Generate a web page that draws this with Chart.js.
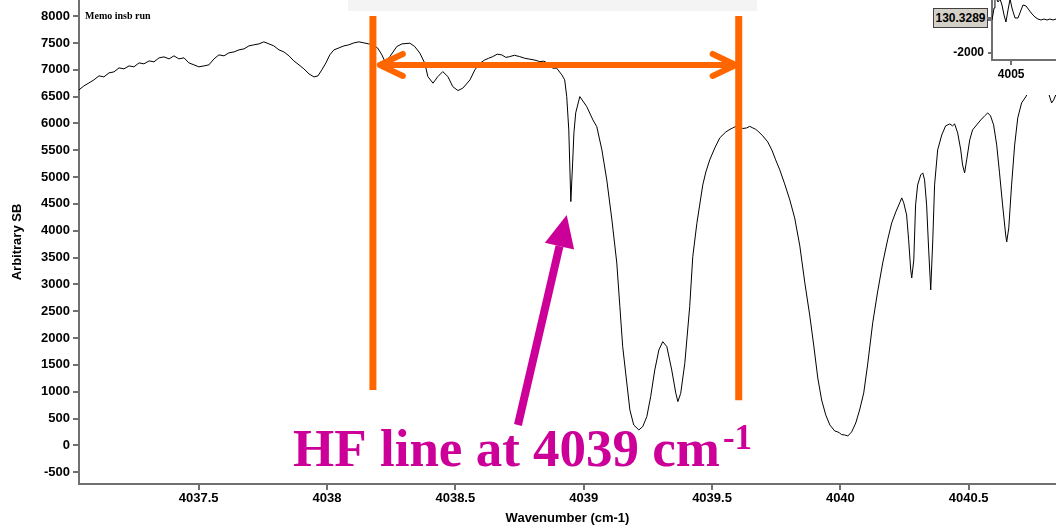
<!DOCTYPE html>
<html>
<head>
<meta charset="utf-8">
<script src="https://cdn.jsdelivr.net/npm/chart.js@4"></script>
<style>
  html, body { margin: 0; padding: 0; background: #fff; }
  #wrap { position: relative; width: 1056px; height: 526px; overflow: hidden; }
  #main { position: absolute; left: 0; top: 0; }
  #topbar { position: absolute; left: 348px; top: 0; width: 409px; height: 11px; background: #f4f4f4; }
  #memo { position: absolute; left: 85px; top: 10px; font: bold 10px "Liberation Serif", serif; color: #000; }
  #inset { position: absolute; left: 925px; top: 0; background: #fff; }
  #readout { position: absolute; left: 933px; top: 8px; width: 53px; height: 18px; background: #d4d0c8;
             border: 1px solid #404040; font: bold 12px "Liberation Sans", Arial, sans-serif; line-height: 18px; text-align: center; }
  #readtick { position: absolute; left: 987px; top: 17px; width: 5px; height: 2px; background: #707070; }
</style>
</head>
<body>
<div id="wrap">
  <canvas id="main" width="1056" height="526"></canvas>
  <div id="topbar"></div>
  <div id="memo">Memo insb run</div>
  <canvas id="inset" width="131" height="95"></canvas>
  <div id="readout">130.3289</div>
  <div id="readtick"></div>
</div>
<script>
// spectrum
const wavenumber = [
  4037.034, 4037.053, 4037.073, 4037.092, 4037.112, 4037.131, 4037.151, 4037.170, 4037.190, 4037.209,
  4037.229, 4037.248, 4037.268, 4037.287, 4037.307, 4037.326, 4037.346, 4037.365, 4037.385, 4037.404,
  4037.423, 4037.443, 4037.462, 4037.482, 4037.501, 4037.521, 4037.540, 4037.560, 4037.579, 4037.599,
  4037.618, 4037.638, 4037.657, 4037.677, 4037.696, 4037.715, 4037.735, 4037.754, 4037.774, 4037.793,
  4037.813, 4037.832, 4037.852, 4037.871, 4037.891, 4037.910, 4037.930, 4037.949, 4037.965, 4037.980,
  4037.996, 4038.011, 4038.027, 4038.047, 4038.066, 4038.085, 4038.105, 4038.124, 4038.144, 4038.163,
  4038.179, 4038.198, 4038.214, 4038.226, 4038.245, 4038.272, 4038.292, 4038.323, 4038.342, 4038.362,
  4038.381, 4038.393, 4038.413, 4038.432, 4038.451, 4038.471, 4038.490, 4038.510, 4038.529, 4038.557,
  4038.576, 4038.596, 4038.615, 4038.630, 4038.646, 4038.663, 4038.681, 4038.697, 4038.712, 4038.730,
  4038.751, 4038.770, 4038.790, 4038.810, 4038.829, 4038.845, 4038.860, 4038.880, 4038.895, 4038.915,
  4038.926, 4038.934, 4038.942, 4038.950, 4038.957, 4038.962, 4038.969, 4038.985, 4039.012, 4039.036,
  4039.051, 4039.071, 4039.090, 4039.110, 4039.129, 4039.141, 4039.152, 4039.168, 4039.180, 4039.195,
  4039.215, 4039.230, 4039.246, 4039.261, 4039.277, 4039.293, 4039.308, 4039.324, 4039.343, 4039.359,
  4039.367, 4039.378, 4039.394, 4039.413, 4039.425, 4039.441, 4039.452, 4039.464, 4039.476, 4039.491,
  4039.511, 4039.530, 4039.554, 4039.570, 4039.581, 4039.595, 4039.608, 4039.620, 4039.635, 4039.647,
  4039.659, 4039.670, 4039.678, 4039.698, 4039.717, 4039.733, 4039.748, 4039.764, 4039.783, 4039.803,
  4039.822, 4039.842, 4039.861, 4039.881, 4039.896, 4039.912, 4039.927, 4039.943, 4039.959, 4039.978,
  4039.990, 4039.997, 4040.005, 4040.017, 4040.029, 4040.037, 4040.044, 4040.060, 4040.075, 4040.091,
  4040.106, 4040.126, 4040.145, 4040.165, 4040.184, 4040.200, 4040.216, 4040.231, 4040.239, 4040.247,
  4040.258, 4040.266, 4040.274, 4040.278, 4040.286, 4040.293, 4040.301, 4040.313, 4040.321, 4040.328,
  4040.336, 4040.344, 4040.352, 4040.360, 4040.367, 4040.379, 4040.395, 4040.410, 4040.426, 4040.437,
  4040.445, 4040.457, 4040.469, 4040.476, 4040.484, 4040.492, 4040.504, 4040.515, 4040.531, 4040.547,
  4040.562, 4040.574, 4040.585, 4040.597, 4040.609, 4040.620, 4040.632, 4040.644, 4040.648, 4040.656,
  4040.667, 4040.679, 4040.691, 4040.706, 4040.722, 4040.737, 4040.761, 4040.784, 4040.807, 4040.823,
  4040.831, 4040.839
];
const signal = [
  6625, 6699, 6755, 6811, 6886, 6867, 6942, 6960, 7035, 7017,
  7072, 7054, 7128, 7110, 7165, 7147, 7222, 7240, 7203, 7259,
  7203, 7222, 7128, 7091, 7054, 7072, 7091, 7203, 7277, 7259,
  7315, 7333, 7370, 7389, 7445, 7464, 7482, 7520, 7482, 7445,
  7370, 7333, 7259, 7165, 7091, 7017, 6923, 6867, 6886, 6998,
  7128, 7277, 7370, 7408, 7445, 7464, 7501, 7520, 7501, 7482,
  7464, 7402, 7277, 7152, 7245, 7432, 7482, 7495, 7432, 7309,
  7122, 6873, 6750, 6873, 6966, 6873, 6686, 6612, 6656, 6811,
  6997, 7122, 7184, 7215, 7245, 7290, 7277, 7230, 7245, 7270,
  7245, 7215, 7197, 7180, 7152, 7160, 7122, 7029, 7029, 6904,
  6811, 6500, 5879, 4543, 5264, 5823, 6196, 6500, 6313, 6065,
  5941, 5506, 4947, 4201, 3400, 2585, 1840, 1163, 660, 380,
  287, 349, 535, 908, 1405, 1778, 1933, 1840, 1405, 971,
  815, 971, 1530, 2585, 3517, 4140, 4481, 4854, 5096, 5320,
  5544, 5730, 5842, 5890, 5916, 5950, 5935, 5905, 5916, 5945,
  5916, 5890, 5860, 5767, 5655, 5506, 5320, 5134, 4873, 4574,
  4239, 3717, 3046, 2412, 1871, 1256, 846, 567, 380, 268,
  250, 231, 200, 194, 175, 215, 250, 418, 660, 977,
  1499, 2282, 2859, 3400, 3829, 4146, 4351, 4518, 4612, 4518,
  4295, 3829, 3269, 3120, 3456, 4481, 4854, 5040, 5078, 4947,
  4481, 3642, 2897, 3829, 4854, 5506, 5786, 5954, 5991, 5954,
  5991, 5823, 5506, 5227, 5078, 5320, 5693, 5879, 5972, 6065,
  6140, 6196, 6140, 5972, 5599, 5078, 4481, 3922, 3791, 4052,
  4854, 5599, 6103, 6382, 6494, 6625, 6811, 6848, 6625, 6382,
  6438, 6531
];
const xTicks = [4037.5, 4038, 4038.5, 4039, 4039.5, 4040, 4040.5];
const yTicks = [-500, 0, 500, 1000, 1500, 2000, 2500, 3000, 3500, 4000, 4500, 5000, 5500, 6000, 6500, 7000, 7500, 8000];

// small cursor window in the top right corner
const insetWavenumber = [4004.850, 4004.866, 4004.873, 4004.882, 4004.897, 4004.913, 4004.928, 4004.944, 4004.959, 4004.975,
  4004.991, 4005.006, 4005.030, 4005.053, 4005.077, 4005.092, 4005.116, 4005.139, 4005.163, 4005.186,
  4005.209, 4005.233, 4005.256, 4005.280, 4005.303, 4005.327, 4005.350];
const insetSignal = [10, 742, 1400, 1350, 1108, 1290, 925, 315, -112, 620,
  1290, 742, 132, 132, 620, 925, 864, 620, 376, 193,
  71, 10, 71, 10, 71, 10, 71];
const insetXTicks = [4005];
const insetYTicks = [-2000, 0];

// annotation anchors (data units)
const spanLeft = 4038.179, spanRight = 4039.604;
const spanTop = 8000, spanLeftBottom = 1030, spanRightBottom = 840;
const spanArrowY = 7090, spanArrowFrom = 4038.206, spanArrowTo = 4039.592;
const hfTail = { x: 4038.744, y: 380 }, hfTip = { x: 4038.934, y: 4295 };
const hfLabel = { x: 4037.868, y: -384 };

const ORANGE = '#ff6600';
const MAGENTA = '#cc0099';
const AXIS = '#707070';
const tickFont = { family: 'Liberation Sans', weight: 'bold', size: 13 };

// chart area must run to the canvas edges, like the cropped original
function noPad(s) {
  s.paddingTop = 0; s.paddingBottom = 0; s.paddingLeft = 0; s.paddingRight = 0;
}

const markup = {
  id: 'markup',
  afterDatasetsDraw(chart) {
    const { ctx, scales: { x, y } } = chart;
    ctx.save();

    // vertical span markers
    ctx.strokeStyle = ORANGE;
    ctx.lineWidth = 7;
    ctx.lineCap = 'butt';
    [[spanLeft, spanLeftBottom], [spanRight, spanRightBottom]].forEach(([wn, bot]) => {
      const px = x.getPixelForValue(wn);
      ctx.beginPath();
      ctx.moveTo(px, y.getPixelForValue(spanTop));
      ctx.lineTo(px, y.getPixelForValue(bot));
      ctx.stroke();
    });

    // double headed arrow
    const ay = y.getPixelForValue(spanArrowY);
    const ax1 = x.getPixelForValue(spanArrowFrom);
    const ax2 = x.getPixelForValue(spanArrowTo);
    ctx.lineWidth = 6;
    ctx.lineCap = 'round';
    ctx.lineJoin = 'round';
    ctx.beginPath();
    ctx.moveTo(ax1, ay); ctx.lineTo(ax2, ay);
    ctx.moveTo(ax1 + 23, ay - 11); ctx.lineTo(ax1, ay); ctx.lineTo(ax1 + 23, ay + 11);
    ctx.moveTo(ax2 - 23, ay - 11); ctx.lineTo(ax2, ay); ctx.lineTo(ax2 - 23, ay + 11);
    ctx.stroke();

    // magenta pointer to the HF line
    const tx = x.getPixelForValue(hfTail.x), ty = y.getPixelForValue(hfTail.y);
    const hx = x.getPixelForValue(hfTip.x), hy = y.getPixelForValue(hfTip.y);
    const len = Math.hypot(hx - tx, hy - ty);
    const ux = (hx - tx) / len, uy = (hy - ty) / len;
    const bx = hx - ux * 32, by = hy - uy * 32;
    ctx.strokeStyle = MAGENTA;
    ctx.fillStyle = MAGENTA;
    ctx.lineWidth = 8;
    ctx.lineCap = 'butt';
    ctx.beginPath();
    ctx.moveTo(tx, ty); ctx.lineTo(bx, by);
    ctx.stroke();
    ctx.beginPath();
    ctx.moveTo(hx, hy);
    ctx.lineTo(bx - uy * 15, by + ux * 15);
    ctx.lineTo(bx + uy * 15, by - ux * 15);
    ctx.closePath();
    ctx.fill();

    // label
    const lx = x.getPixelForValue(hfLabel.x), ly = y.getPixelForValue(hfLabel.y);
    ctx.textAlign = 'left';
    ctx.textBaseline = 'alphabetic';
    ctx.font = 'bold 53px "Liberation Serif", serif';
    const main = 'HF line at 4039 cm';
    ctx.fillText(main, lx, ly);
    const w = ctx.measureText(main).width;
    ctx.font = 'bold 35px "Liberation Serif", serif';
    ctx.fillText('-1', lx + w + 3, ly - 17);

    ctx.restore();
  }
};

new Chart(document.getElementById('main').getContext('2d'), {
  type: 'line',
  data: {
    datasets: [{
      data: wavenumber.map((wn, i) => ({ x: wn, y: signal[i] })),
      borderColor: '#000',
      borderWidth: 1,
      pointRadius: 0,
      tension: 0,
      fill: false
    }]
  },
  options: {
    responsive: false,
    animation: false,
    devicePixelRatio: 1,
    layout: { padding: 0 },
    plugins: { legend: { display: false }, tooltip: { enabled: false } },
    scales: {
      x: {
        type: 'linear',
        min: 4037.034,
        max: 4040.84,
        afterFit(s) { s.height = 42; noPad(s) },
        afterBuildTicks(s) { s.ticks = xTicks.map(v => ({ value: v })) },
        border: { color: AXIS, width: 2 },
        grid: { drawOnChartArea: false, drawTicks: true, tickLength: 6, color: AXIS, lineWidth: 2 },
        ticks: { padding: 1, maxRotation: 0, autoSkip: false, color: '#000', font: tickFont,
          callback: v => String(Math.round(v * 10) / 10) },
        title: { display: true, text: 'Wavenumber (cm-1)', color: '#000', font: tickFont, padding: { top: 0, bottom: 0 } }
      },
      y: {
        min: -720,
        max: 8300,
        afterFit(s) { s.width = 79; noPad(s) },
        afterBuildTicks(s) { s.ticks = yTicks.map(v => ({ value: v })) },
        border: { color: AXIS, width: 2 },
        grid: { drawOnChartArea: false, drawTicks: true, tickLength: 6, color: AXIS, lineWidth: 2 },
        ticks: { padding: 3, autoSkip: false, color: '#000', font: tickFont, callback: v => String(v) },
        title: { display: true, text: 'Arbitrary SB', color: '#000', font: tickFont, padding: { top: 10, bottom: 0 } }
      }
    }
  },
  plugins: [markup]
});

new Chart(document.getElementById('inset').getContext('2d'), {
  type: 'line',
  data: {
    datasets: [{
      data: insetWavenumber.map((wn, i) => ({ x: wn, y: insetSignal[i] })),
      borderColor: '#000',
      borderWidth: 1,
      pointRadius: 0,
      tension: 0
    }]
  },
  options: {
    responsive: false,
    animation: false,
    devicePixelRatio: 1,
    layout: { padding: 0 },
    plugins: { legend: { display: false }, tooltip: { enabled: false } },
    scales: {
      x: {
        type: 'linear', min: 4004.85, max: 4005.35,
        afterFit(s) { s.height = 35; noPad(s) },
        afterBuildTicks(s) { s.ticks = insetXTicks.map(v => ({ value: v })) },
        border: { color: AXIS, width: 2 },
        grid: { drawOnChartArea: false, tickLength: 5, color: AXIS, lineWidth: 2 },
        ticks: { padding: 2, maxRotation: 0, color: '#000', font: { family: 'Liberation Sans', weight: 'bold', size: 12 },
          callback: v => String(v) }
      },
      y: {
        min: -2430, max: 1230,
        afterFit(s) { s.width = 67; noPad(s) },
        afterBuildTicks(s) { s.ticks = insetYTicks.map(v => ({ value: v })) },
        border: { color: AXIS, width: 2 },
        grid: { drawOnChartArea: false, tickLength: 4, color: AXIS, lineWidth: 2 },
        ticks: { padding: 4, color: '#000', font: { family: 'Liberation Sans', weight: 'bold', size: 12 },
          callback: v => String(v) }
      }
    }
  }
});
</script>
</body>
</html>
